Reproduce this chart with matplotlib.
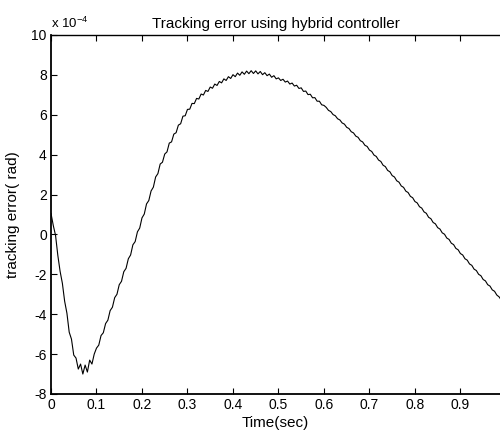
import numpy as np
import matplotlib
matplotlib.use("Agg")
import matplotlib.pyplot as plt

plt.rcParams['font.family'] = ['Liberation Sans', 'DejaVu Sans']
plt.rcParams['mathtext.fontset'] = 'custom'
plt.rcParams['mathtext.rm'] = 'Liberation Sans'
plt.rcParams['mathtext.it'] = 'Liberation Sans'

# tracking error samples (x 1e-4 rad), one every 0.005 s starting at t = 0
err_e4 = [
    1.05, 0.45, -0.05, -1.05, -1.85, -2.45, -3.35, -3.95, -4.9, -5.25,
    -6.05, -6.2, -6.75, -6.5, -7.0, -6.55, -6.9, -6.3, -6.5, -6.0,
    -5.7, -5.55, -5.07, -4.93, -4.47, -4.3, -3.82, -3.65, -3.17, -3.0,
    -2.52, -2.35, -1.87, -1.7, -1.22, -1.03, -0.52, -0.36, 0.13, 0.32,
    0.83, 1.02, 1.53, 1.7, 2.18, 2.37, 2.88, 3.05, 3.53, 3.62,
    4.03, 4.14, 4.58, 4.64, 5.03, 5.1, 5.48, 5.55, 5.93, 5.95,
    6.27, 6.28, 6.57, 6.56, 6.82, 6.79, 7.04, 6.99, 7.22, 7.17,
    7.39, 7.33, 7.54, 7.47, 7.67, 7.6, 7.8, 7.72, 7.91, 7.82,
    8.01, 7.91, 8.09, 7.98, 8.15, 8.03, 8.19, 8.06, 8.21, 8.07,
    8.2, 8.05, 8.17, 8.01, 8.11, 7.96, 8.04, 7.88, 7.96, 7.8,
    7.85, 7.72, 7.78, 7.64, 7.69, 7.54, 7.59, 7.44, 7.48, 7.32,
    7.35, 7.17, 7.19, 7.01, 7.03, 6.85, 6.86, 6.68, 6.68, 6.5,
    6.47, 6.37, 6.22, 6.16, 6.01, 5.95, 5.8, 5.74, 5.59, 5.53,
    5.37, 5.31, 5.15, 5.09, 4.93, 4.87, 4.7, 4.64, 4.47, 4.41,
    4.23, 4.16, 3.98, 3.91, 3.73, 3.66, 3.47, 3.4, 3.21, 3.14,
    2.95, 2.88, 2.69, 2.62, 2.43, 2.36, 2.17, 2.1, 1.91, 1.84,
    1.65, 1.58, 1.39, 1.32, 1.13, 1.06, 0.86, 0.79, 0.6, 0.53,
    0.34, 0.27, 0.08, 0.01, -0.18, -0.25, -0.44, -0.51, -0.7, -0.77,
    -0.96, -1.03, -1.22, -1.29, -1.48, -1.55, -1.74, -1.81, -2.0, -2.07,
    -2.26, -2.33, -2.52, -2.59, -2.78, -2.85, -3.04, -3.13, -3.3,
]
dt = 0.005
time_s = np.arange(len(err_e4)) * dt

x_ticks = [0, 0.1, 0.2, 0.3, 0.4, 0.5, 0.6, 0.7, 0.8, 0.9]
x_ticklabels = ['0', '0.1', '0.2', '0.3', '0.4', '0.5', '0.6', '0.7', '0.8', '0.9']
y_ticks = [-8, -6, -4, -2, 0, 2, 4, 6, 8, 10]

fig = plt.figure(figsize=(5.0, 4.32), dpi=100)
ax = fig.add_axes([0.102, 0.088, 0.898, 0.831])
ax.plot(time_s, err_e4, color='black', linewidth=0.8)

ax.set_xlim(0, 0.987)
ax.set_ylim(-8, 10)
ax.set_xticks(x_ticks)
ax.set_xticklabels(x_ticklabels)
ax.set_yticks(y_ticks)
ax.set_yticklabels([str(v) for v in y_ticks])

ax.tick_params(direction='in', length=4, width=0.8, labelsize=10, top=True, right=False, pad=3)
ax.spines['right'].set_visible(False)
for s in ['left', 'bottom']:
    ax.spines[s].set_linewidth(1.3)
ax.spines['top'].set_linewidth(1.0)

ax.set_title('Tracking error using hybrid controller', fontsize=11, pad=5)
ax.set_xlabel('Time(sec)', fontsize=11)
ax.xaxis.set_label_coords(0.5, -0.062)
ax.set_ylabel('tracking error( rad)', fontsize=11)
ax.yaxis.set_label_coords(-0.068, 0.5)
ax.text(0.0, 1.012, r'x 10$^{-4}$', transform=ax.transAxes, fontsize=9.5,
        ha='left', va='bottom')

fig.savefig('out.png', dpi=100)
